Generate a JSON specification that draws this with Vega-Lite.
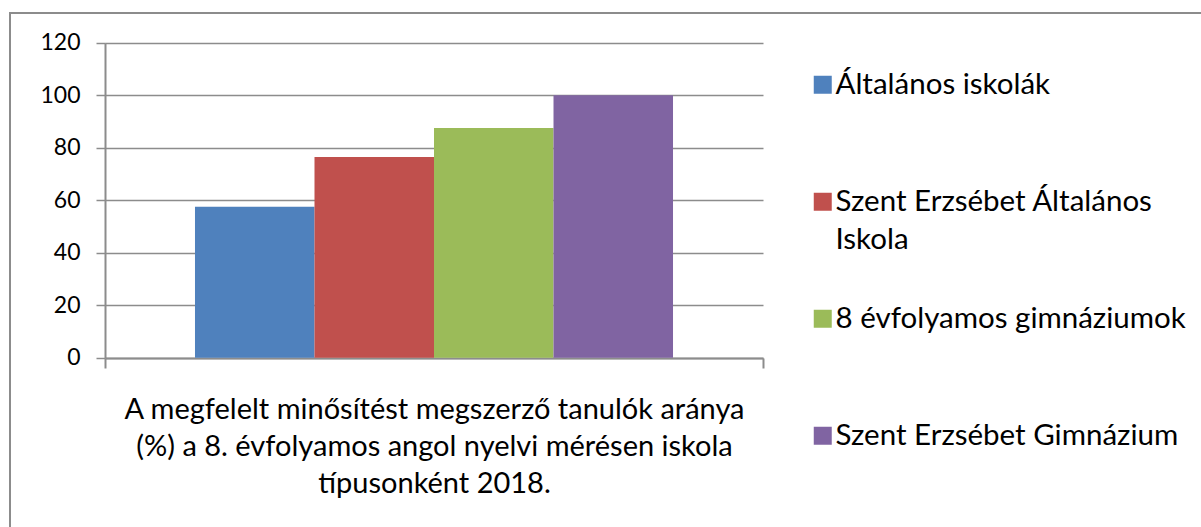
{
  "$schema": "https://vega.github.io/schema/vega-lite/v6.json",
  "width": 1200,
  "height": 520,
  "autosize": {"type": "none"},
  "padding": {"left": 10, "top": 13, "right": 0, "bottom": 0},
  "background": "white",
  "config": {
    "view": {"stroke": "#8c8c8c", "strokeWidth": 2},
    "font": "Lato"
  },
  "data": {
    "values": [
      {"kategoria": "A megfelelt minősítést megszerző tanulók aránya (%) a 8. évfolyamos angol nyelvi mérésen iskola típusonként 2018.", "iskola": "Általános iskolák", "arany": 57.5},
      {"kategoria": "A megfelelt minősítést megszerző tanulók aránya (%) a 8. évfolyamos angol nyelvi mérésen iskola típusonként 2018.", "iskola": "Szent Erzsébet Általános Iskola", "arany": 76.5},
      {"kategoria": "A megfelelt minősítést megszerző tanulók aránya (%) a 8. évfolyamos angol nyelvi mérésen iskola típusonként 2018.", "iskola": "8 évfolyamos gimnáziumok", "arany": 87.5},
      {"kategoria": "A megfelelt minősítést megszerző tanulók aránya (%) a 8. évfolyamos angol nyelvi mérésen iskola típusonként 2018.", "iskola": "Szent Erzsébet Gimnázium", "arany": 100}
    ]
  },
  "mark": {"type": "bar"},
  "encoding": {
    "x": {
      "field": "kategoria",
      "type": "nominal",
      "scale": {"range": [95, 753], "paddingInner": 0, "paddingOuter": 0},
      "axis": {
        "orient": "bottom",
        "offset": -175,
        "labels": false,
        "tickBand": "extent",
        "tickSize": 10,
        "tickColor": "#8c8c8c",
        "tickWidth": 2,
        "domainColor": "#8c8c8c",
        "domainWidth": 2,
        "grid": false,
        "title": ["A megfelelt minősítést megszerző tanulók aránya", "(%) a 8. évfolyamos angol nyelvi mérésen iskola", "típusonként 2018."],
        "titleFont": "Lato",
        "titleFontSize": 29,
        "titleFontWeight": "normal",
        "titleColor": "#000000",
        "titlePadding": 26,
        "titleLineHeight": 37,
        "titleBaseline": "top"
      }
    },
    "xOffset": {
      "field": "iskola",
      "type": "nominal",
      "sort": ["Általános iskolák", "Szent Erzsébet Általános Iskola", "8 évfolyamos gimnáziumok", "Szent Erzsébet Gimnázium"],
      "scale": {"paddingInner": 0, "paddingOuter": 0.753}
    },
    "y": {
      "field": "arany",
      "type": "quantitative",
      "scale": {"domain": [0, 120], "range": [344.7, 29.7], "nice": false, "zero": true},
      "axis": {
        "orient": "left",
        "offset": -95,
        "values": [0, 20, 40, 60, 80, 100, 120],
        "title": null,
        "grid": true,
        "gridColor": "#8c8c8c",
        "gridWidth": 1.5,
        "domainColor": "#8c8c8c",
        "domainWidth": 2,
        "tickColor": "#8c8c8c",
        "tickWidth": 1.5,
        "tickSize": 9,
        "labelFont": "Lato",
        "labelFontSize": 23,
        "labelColor": "#000000",
        "labelPadding": 16
      }
    },
    "color": {
      "field": "iskola",
      "type": "nominal",
      "sort": ["Általános iskolák", "Szent Erzsébet Általános Iskola", "8 évfolyamos gimnáziumok", "Szent Erzsébet Gimnázium"],
      "scale": {
        "domain": ["Általános iskolák", "Szent Erzsébet Általános Iskola", "8 évfolyamos gimnáziumok", "Szent Erzsébet Gimnázium"],
        "range": ["#4F81BD", "#C0504D", "#9BBB59", "#8064A2"]
      },
      "legend": {
        "orient": "none",
        "legendX": 798,
        "legendY": 57,
        "title": null,
        "padding": 0,
        "symbolType": "square",
        "symbolSize": 324,
        "symbolStrokeWidth": 0,
        "labelFont": "Lato",
        "labelFontSize": 29.5,
        "labelColor": "#000000",
        "labelOffset": -2,
        "labelLimit": 500,
        "rowPadding": 48,
        "labelBaseline": "middle",
        "labelExpr": "datum.label == 'Szent Erzsébet Általános Iskola' ? ['Szent Erzsébet Általános', 'Iskola'] : [datum.label, '']",
        "encode": {
          "labels": {"update": {"lineHeight": {"value": 38}}}
        }
      }
    }
  }
}
